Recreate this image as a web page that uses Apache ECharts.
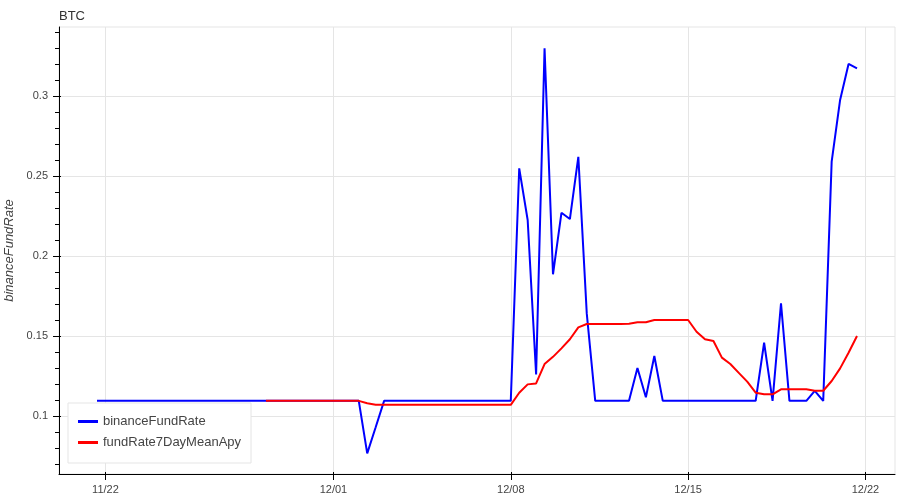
<!DOCTYPE html>
<html>
<head>
<meta charset="utf-8">
<script src="https://cdn.jsdelivr.net/npm/echarts@6/dist/echarts.min.js"></script>
<style>
html,body{margin:0;padding:0;background:#fff;}
#chart{width:900px;height:500px;}
</style>
</head>
<body>
<div id="chart"></div>
<script>
const times = [
'2024-11-21 16:00',
'2024-11-22 00:00','2024-11-22 08:00','2024-11-22 16:00',
'2024-11-23 00:00','2024-11-23 08:00','2024-11-23 16:00',
'2024-11-24 00:00','2024-11-24 08:00','2024-11-24 16:00',
'2024-11-25 00:00','2024-11-25 08:00','2024-11-25 16:00',
'2024-11-26 00:00','2024-11-26 08:00','2024-11-26 16:00',
'2024-11-27 00:00','2024-11-27 08:00','2024-11-27 16:00',
'2024-11-28 00:00','2024-11-28 08:00','2024-11-28 16:00',
'2024-11-29 00:00','2024-11-29 08:00','2024-11-29 16:00',
'2024-11-30 00:00','2024-11-30 08:00','2024-11-30 16:00',
'2024-12-01 00:00','2024-12-01 08:00','2024-12-01 16:00',
'2024-12-02 00:00','2024-12-02 08:00','2024-12-02 16:00',
'2024-12-03 00:00','2024-12-03 08:00','2024-12-03 16:00',
'2024-12-04 00:00','2024-12-04 08:00','2024-12-04 16:00',
'2024-12-05 00:00','2024-12-05 08:00','2024-12-05 16:00',
'2024-12-06 00:00','2024-12-06 08:00','2024-12-06 16:00',
'2024-12-07 00:00','2024-12-07 08:00','2024-12-07 16:00',
'2024-12-08 00:00','2024-12-08 08:00','2024-12-08 16:00',
'2024-12-09 00:00','2024-12-09 08:00','2024-12-09 16:00',
'2024-12-10 00:00','2024-12-10 08:00','2024-12-10 16:00',
'2024-12-11 00:00','2024-12-11 08:00','2024-12-11 16:00',
'2024-12-12 00:00','2024-12-12 08:00','2024-12-12 16:00',
'2024-12-13 00:00','2024-12-13 08:00','2024-12-13 16:00',
'2024-12-14 00:00','2024-12-14 08:00','2024-12-14 16:00',
'2024-12-15 00:00','2024-12-15 08:00','2024-12-15 16:00',
'2024-12-16 00:00','2024-12-16 08:00','2024-12-16 16:00',
'2024-12-17 00:00','2024-12-17 08:00','2024-12-17 16:00',
'2024-12-18 00:00','2024-12-18 08:00','2024-12-18 16:00',
'2024-12-19 00:00','2024-12-19 08:00','2024-12-19 16:00',
'2024-12-20 00:00','2024-12-20 08:00','2024-12-20 16:00',
'2024-12-21 00:00','2024-12-21 08:00','2024-12-21 16:00'
];

const binanceFundRate = [
0.1095,
0.1095,0.1095,0.1095, 0.1095,0.1095,0.1095, 0.1095,0.1095,0.1095,
0.1095,0.1095,0.1095, 0.1095,0.1095,0.1095, 0.1095,0.1095,0.1095,
0.1095,0.1095,0.1095, 0.1095,0.1095,0.1095, 0.1095,0.1095,0.1095,
0.1095,0.1095,0.1095,
0.1095,0.0767,0.093,
0.1095,0.1095,0.1095, 0.1095,0.1095,0.1095, 0.1095,0.1095,0.1095,
0.1095,0.1095,0.1095, 0.1095,0.1095,0.1095,
0.1095,0.2548,0.2225,
0.126,0.3298,0.1886,
0.227,0.2231,0.262,
0.164,0.1095,0.1095,
0.1095,0.1095,0.1095,
0.130,0.1117,0.1375,
0.1095,0.1095,0.1095, 0.1095,0.1095,0.1095, 0.1095,0.1095,0.1095, 0.1095,0.1095,0.1095,
0.1458,0.1095,0.1705,
0.1095,0.1095,0.1095,
0.1158,0.1095,0.259,
0.2975,0.32,0.3173
];

const fundRate7DayMeanApy = [
null,
null,null,null, null,null,null, null,null,null,
null,null,null, null,null,null, null,null,null,
null,0.1095,0.1095,
0.1095,0.1095,0.1095, 0.1095,0.1095,0.1095, 0.1095,0.1095,0.1095,
0.1095,0.108,0.1071,
0.107,0.107,0.107, 0.107,0.107,0.107, 0.107,0.107,0.107,
0.107,0.107,0.107, 0.107,0.107,0.107,
0.107,0.1146,0.1198,
0.1204,0.1325,0.137,
0.1423,0.148,0.1554,
0.1575,0.1575,0.1575,
0.1575,0.1575,0.1577,
0.1586,0.1586,0.16,
0.16,0.16,0.16,
0.16,0.1527,0.148,
0.1469,0.1365,0.1325,
0.127,0.1215,0.1146,
0.1136,0.1136,0.1167,
0.1167,0.1167,0.1167,
0.1158,0.1158,0.1219,
0.1298,0.1396,0.15
];

const xTickDates = ['2024-11-22 00:00','2024-12-01 00:00','2024-12-08 00:00','2024-12-15 00:00','2024-12-22 00:00'];
const yTickValues = [0.1, 0.15, 0.2, 0.25, 0.3];
const yMinorTickValues = [0.07,0.08,0.09,0.11,0.12,0.13,0.14,0.16,0.17,0.18,0.19,0.21,0.22,0.23,0.24,0.26,0.27,0.28,0.29,0.31,0.32,0.33,0.34];
const xRange = ['2024-11-20 04:00', '2024-12-23 04:00'];
const yRange = [0.0638, 0.3431];

function toTs(s) {
  const [d, t] = s.split(' ');
  const [y, m, dd] = d.split('-').map(Number);
  const [hh, mm] = t.split(':').map(Number);
  return new Date(y, m - 1, dd, hh, mm).getTime();
}
function pad(n) { return (n < 10 ? '0' : '') + n; }

const FONT = '"Liberation Sans", Arial, Helvetica, sans-serif';
const TEXT = '#444444';
const GRID = '#e5e5e5';
const BLACK = '#000000';

// helper: an overlay axis that only draws ticks
function tickOnlyAxis(base, values, len, inside) {
  return Object.assign({}, base, {
    axisLine: { show: false, onZero: false },
    axisTick: { show: true, inside: inside, length: len, lineStyle: { color: BLACK, width: 1 }, customValues: values },
    axisLabel: { show: false, customValues: values },
    splitLine: { show: false },
    minorTick: { show: false },
    name: ''
  });
}

const xBase = { type: 'value', position: 'bottom', min: toTs(xRange[0]), max: toTs(xRange[1]) };
const yBase = { type: 'value', position: 'left', min: yRange[0], max: yRange[1] };
const xMajor = xTickDates.map(toTs);

const chart = echarts.init(document.getElementById('chart'), null, { renderer: 'canvas' });
chart.setOption({
  animation: false,
  backgroundColor: '#ffffff',
  textStyle: { fontFamily: FONT },
  title: {
    text: 'BTC', left: 54, top: 5,
    textStyle: { fontSize: 13, fontWeight: 'normal', color: '#333333', fontFamily: FONT }
  },
  grid: {
    left: 59, right: 5, top: 27, bottom: 26,
    containLabel: false, outerBoundsMode: 'none',
    show: true, borderColor: GRID, borderWidth: 1, backgroundColor: 'transparent'
  },
  legend: {
    left: 68, top: 403, orient: 'vertical',
    backgroundColor: '#ffffff', borderColor: GRID, borderWidth: 1,
    padding: [12, 10, 14, 10], itemGap: 8,
    itemWidth: 20, itemHeight: 3, icon: 'rect',
    textStyle: { fontSize: 13, lineHeight: 13, color: TEXT, fontFamily: FONT },
    data: ['binanceFundRate', 'fundRate7DayMeanApy']
  },
  xAxis: [
    Object.assign({}, xBase, {
      axisLine: { show: true, onZero: false, lineStyle: { color: BLACK, width: 1 } },
      axisTick: { show: true, length: 6, lineStyle: { color: BLACK }, customValues: xMajor },
      axisLabel: {
        show: true, margin: 10, fontSize: 11, color: TEXT, fontFamily: FONT,
        customValues: xMajor,
        formatter: function (v) { const d = new Date(v); return pad(d.getMonth() + 1) + '/' + pad(d.getDate()); }
      },
      splitLine: { show: true, lineStyle: { color: GRID, width: 1 } },
      minorTick: { show: false }
    }),
    tickOnlyAxis(xBase, xMajor, 2, true)
  ],
  yAxis: [
    Object.assign({}, yBase, {
      name: 'binanceFundRate', nameLocation: 'middle', nameRotate: 90, nameGap: 43,
      nameTextStyle: { fontSize: 13, fontStyle: 'italic', color: TEXT, fontFamily: FONT },
      axisLine: { show: true, onZero: false, lineStyle: { color: BLACK, width: 1 } },
      axisTick: { show: true, length: 6, lineStyle: { color: BLACK }, customValues: yTickValues },
      minorTick: { show: false },
      axisLabel: {
        show: true, margin: 11, fontSize: 11, color: TEXT, fontFamily: FONT,
        customValues: yTickValues,
        formatter: function (v) { return String(+(+v).toFixed(4)); }
      },
      splitLine: { show: true, lineStyle: { color: GRID, width: 1 } },
      minorSplitLine: { show: false }
    }),
    tickOnlyAxis(yBase, yMinorTickValues, 4, false),
    tickOnlyAxis(yBase, yTickValues, 2, true)
  ],
  series: [
    {
      name: 'binanceFundRate', type: 'line', showSymbol: false, symbol: 'none',
      xAxisIndex: 0, yAxisIndex: 0,
      color: '#0000ff',
      lineStyle: { color: '#0000ff', width: 2 },
      data: times.map((t, i) => [toTs(t), binanceFundRate[i]])
    },
    {
      name: 'fundRate7DayMeanApy', type: 'line', showSymbol: false, symbol: 'none',
      xAxisIndex: 0, yAxisIndex: 0,
      color: '#ff0000', connectNulls: false,
      lineStyle: { color: '#ff0000', width: 2 },
      data: times.map((t, i) => [toTs(t), fundRate7DayMeanApy[i]])
    }
  ]
});
</script>
</body>
</html>
